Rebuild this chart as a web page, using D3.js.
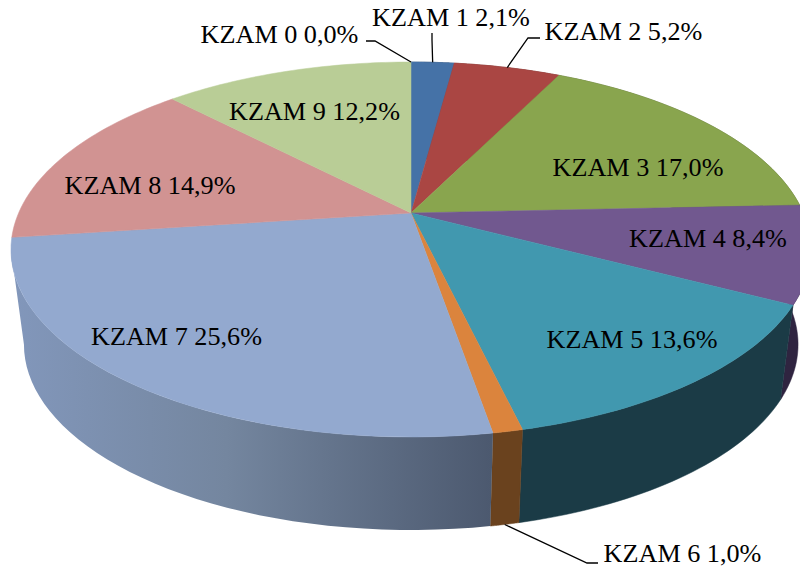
<!DOCTYPE html>
<html><head><meta charset="utf-8">
<style>html,body{margin:0;padding:0;background:#fff;overflow:hidden}svg{display:block}text{font-family:"Liberation Serif","Times New Roman",serif;font-size:26.2px;fill:#000}</style>
<script src="https://cdn.jsdelivr.net/npm/d3@7/dist/d3.min.js"></script>
</head><body><svg id="c" width="800" height="568"></svg>
<script>
const categories = ["KZAM 0","KZAM 1","KZAM 2","KZAM 3","KZAM 4","KZAM 5","KZAM 6","KZAM 7","KZAM 8","KZAM 9"];
const values = [0.0,2.1,5.2,17.0,8.4,13.6,1.0,25.6,14.9,12.2];
const topColors = ["#4572a7","#4572a7","#aa4643","#89a54e","#71588f","#4198af","#db843d","#93a9cf","#d19392","#b9cd96"];
const wallColors = ["#2a4466","#2a4466","#672a28","#53632f","#2f2440","#1b3b46","#6a421e","#7d91b4","#7f5958","#707c5b"];

// layout, kept apart from the data: [centre x, baseline y]
const labelAt = [[279.5,43],[451,26],[623.5,40],[638,176],[708,247],[632,348],[682.5,562],[176.5,345],[150,194],[314.5,120]];
// leader lines: label-side points, the third point is the rim of the slice
const leaders = {0:[[366,41],[375,41]],1:[[432,33],[432,40]],2:[[540,38],[528,38]],6:[[598,563],[587,563]]};

const svg = d3.select("#c");
const cx = 411, apexY = 213, persp = -0.1947, tilt = 138.9, widthK = 392.4;
function rim(theta){
  const u = Math.sin(theta), v = -Math.cos(theta), w = 1 + persp*v;
  return [cx + widthK*u/w, (apexY + tilt*v)/w];
}
// lower rim of the disc: the upper ellipse scaled and moved down
function lowerRim(theta){
  const p = rim(theta);
  return [cx + (p[0]-cx)*387/400, 345 + (p[1]-250)*186/188];
}
const arcs = d3.pie().sort(null).value(d=>d)(values);
const sweep = (a,b,n=40) => d3.range(0,n+1).map(i=>a+(b-a)*i/n);
const samples = a => sweep(a.startAngle,a.endAngle);
const line = d3.line();

const defs = svg.append("defs");
const grad = defs.append("linearGradient").attr("id","w7").attr("gradientUnits","userSpaceOnUse")
  .attr("x1",11).attr("x2",491).attr("y1",0).attr("y2",0);
grad.append("stop").attr("offset",0).attr("stop-color","#8297bb");
grad.append("stop").attr("offset",.45).attr("stop-color","#74869f");
grad.append("stop").attr("offset",1).attr("stop-color","#4c596f");

const visible = arcs.map((a,i)=>({a,i})).filter(d=>d.a.value>0);
const lastWall = 7;                       // the slices after this one face away
// walls: the last one stops where the rim reaches its leftmost point, so its edge is the silhouette
svg.append("g").selectAll("path").data(visible.filter(d=>d.i<=lastWall)).join("path")
  .attr("d",d=>{
    let s = samples(d.a);
    if(d.i===lastWall){
      const turn = d3.least(sweep(d.a.startAngle,d.a.endAngle,400),t=>rim(t)[0]);
      s = sweep(d.a.startAngle,turn);
    }
    return line(s.map(rim).concat(s.slice().reverse().map(lowerRim)))+"Z";
  })
  .attr("fill",d=>d.i===7?"url(#w7)":wallColors[d.i])
  .attr("stroke",d=>d.i===7?"none":wallColors[d.i]).attr("stroke-width",.5);
// top faces
svg.append("g").selectAll("path").data(visible).join("path")
  .attr("d",d=>line([[cx,apexY]].concat(samples(d.a).map(rim)))+"Z")
  .attr("fill",d=>topColors[d.i]).attr("stroke",d=>topColors[d.i]).attr("stroke-width",.5);
// leaders
const leaderG = svg.append("g");
Object.keys(leaders).forEach(k=>{
  const i=+k, a=arcs[i], mid=(a.startAngle+a.endAngle)/2;
  const end = i===6 ? lowerRim(mid) : rim(mid);
  leaderG.append("path").attr("d",line(leaders[k].concat([end])))
    .attr("fill","none").attr("stroke","#000").attr("stroke-width",1.3);
});
// labels
const fmt = d3.formatLocale({decimal:",",thousands:".",grouping:[3],currency:["","%"]}).format(".1f");
svg.append("g").selectAll("text").data(categories).join("text")
  .attr("x",(d,i)=>labelAt[i][0]).attr("y",(d,i)=>labelAt[i][1]).attr("text-anchor","middle")
  .text((d,i)=>d+" "+fmt(values[i])+"%");
</script></body></html>
